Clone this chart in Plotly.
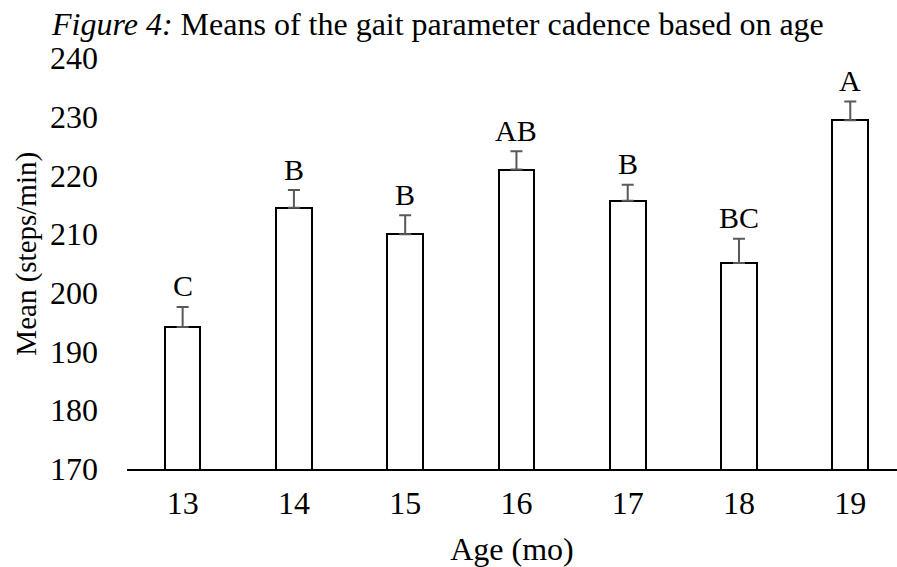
import plotly.graph_objects as go

ages = ["13", "14", "15", "16", "17", "18", "19"]
means = [194.2, 214.5, 210.0, 221.0, 215.7, 205.1, 229.4]
errors = [3.4, 3.0, 3.2, 3.1, 2.7, 4.1, 3.2]
letters = ["C", "B", "B", "AB", "B", "BC", "A"]
y_ticks = [170, 180, 190, 200, 210, 220, 230, 240]

FONT = "Liberation Serif, Times New Roman, serif"
FS = 32
W, H = 897, 567

fig = go.Figure()
fig.add_trace(go.Bar(
    x=ages, y=means, width=0.32,
    marker=dict(color="white", line=dict(color="black", width=2)),
    error_y=dict(type="data", array=errors, arrayminus=[0]*len(errors),
                 symmetric=False, color="#595959", thickness=2, width=6),
    showlegend=False, hoverinfo="skip",
))

for i, (m, e, t) in enumerate(zip(means, errors, letters)):
    fig.add_annotation(x=i, y=m + e, text=t, showarrow=False,
                       yanchor="middle", yshift=21,
                       font=dict(family=FONT, size=30, color="black"))

# y-axis title
fig.add_annotation(xref="paper", yref="paper", x=0, y=0.524, xanchor="center",
                   yanchor="middle", xshift=-100, textangle=-90, showarrow=False,
                   text="Mean (steps/min)", font=dict(family=FONT, size=29, color="black"))

fig.update_layout(
    width=W, height=H,
    margin=dict(l=127, r=0, t=58, b=98),
    paper_bgcolor="white", plot_bgcolor="white",
    font=dict(family=FONT, size=FS, color="black"),
    title=dict(text="<i>Figure 4:</i> Means of the gait parameter cadence based on age",
               xref="container", yref="container", x=52/W, xanchor="left",
               y=1 - 24/H, yanchor="middle",
               font=dict(family=FONT, size=FS, color="black")),
    bargap=0,
)
fig.update_xaxes(
    type="category", automargin=False,
    range=[-0.5, 6.42], showline=True, linecolor="black", linewidth=2,
    showgrid=False, ticks="", ticklabelstandoff=5,
    tickfont=dict(family=FONT, size=FS, color="black"),
    title=dict(text="Age (mo)", standoff=26, font=dict(family=FONT, size=FS, color="black")),
)
fig.update_yaxes(
    automargin=False,
    range=[170, 240], tickvals=y_ticks, showline=False, showgrid=False,
    zeroline=False, ticks="", ticklabelstandoff=28,
    tickfont=dict(family=FONT, size=FS, color="black"),
)

fig.write_html("out.html", config={"displayModeBar": False},
               post_script="document.body.style.margin='0';")
